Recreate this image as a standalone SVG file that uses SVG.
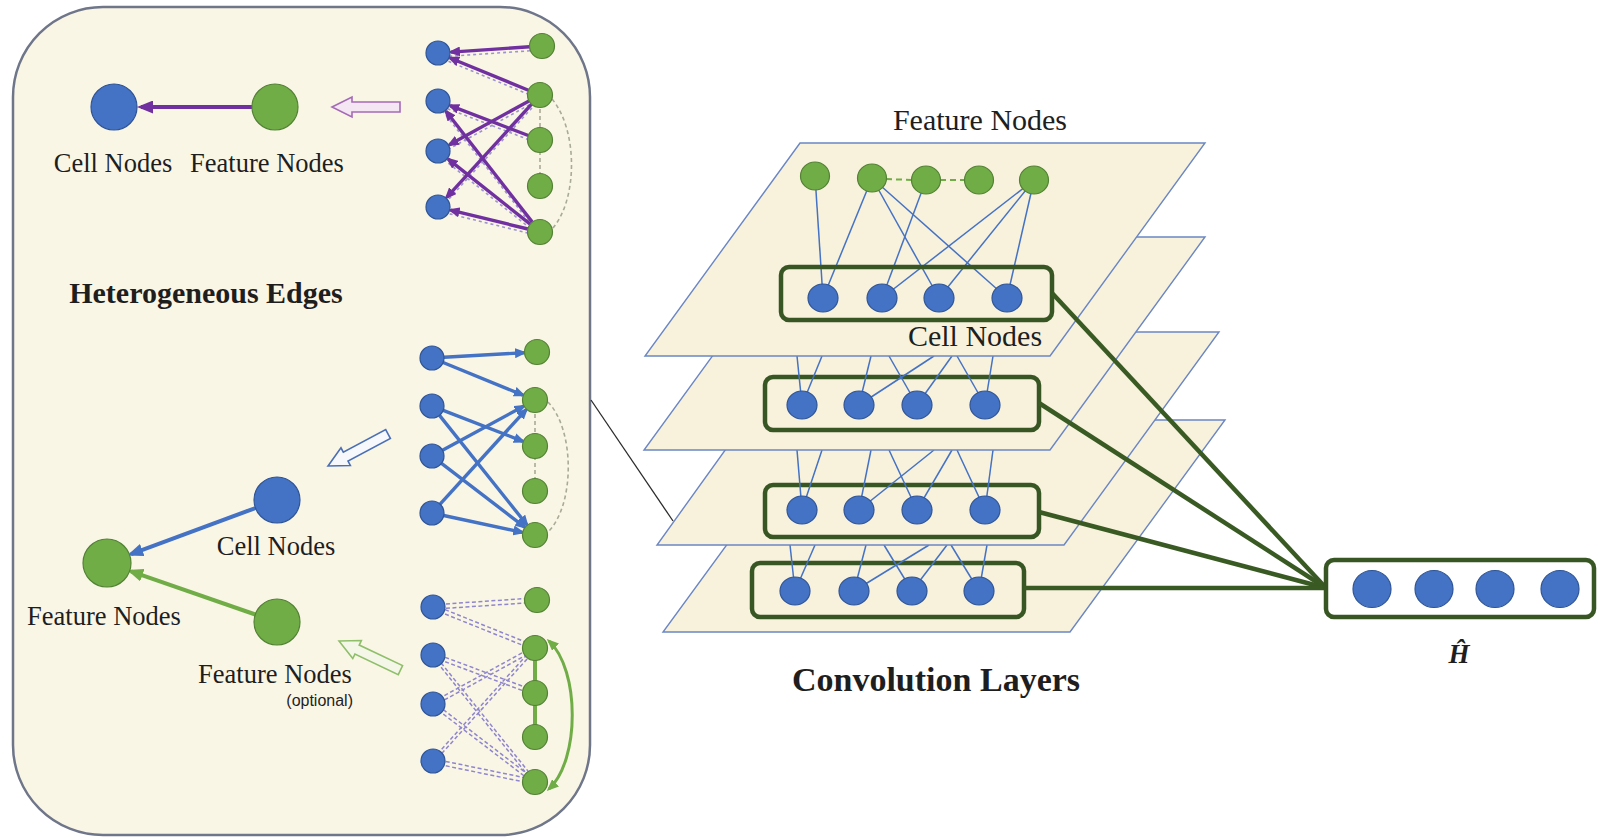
<svg xmlns="http://www.w3.org/2000/svg" width="1597" height="837" viewBox="0 0 1597 837">
<defs>
<style>
 .serif{font-family:"Liberation Serif","Times New Roman",serif;fill:#1e1e1e}
 .l1{font-size:26.5px}
 .l2{font-size:30px}
 .bn{fill:#4472c4;stroke:#2f5597;stroke-width:1.2}
 .gn{fill:#70ad47;stroke:#548235;stroke-width:1.2}
 .plane{fill:#f8f2dc;stroke:#6a86c4;stroke-width:1.4}
 .box{fill:none;stroke:#375623;stroke-width:4.5}
 .thin{stroke:#4472c4;stroke-width:1.5;fill:none}
 .pe{stroke:#7030a0;stroke-width:3.4;fill:none;marker-end:url(#ahP)}
 .be{stroke:#4472c4;stroke-width:3.4;fill:none;marker-end:url(#ahB)}
 .pd{stroke:#9d94cf;stroke-width:1.6;stroke-dasharray:3 3;fill:none}
 .gd{stroke:#a8ab98;stroke-width:1.6;stroke-dasharray:4 3;fill:none}
 .dd{stroke:#8f86cc;stroke-width:1.5;stroke-dasharray:4 2.5;fill:none}
 .thick{stroke:#3a5a24;stroke-width:4.5;fill:none}
</style>
<marker id="ahP" markerUnits="userSpaceOnUse" markerWidth="12" markerHeight="10" refX="9" refY="5" orient="auto"><path d="M0,0 L12,5 L0,10 z" fill="#7030a0"/></marker>
<marker id="ahB" markerUnits="userSpaceOnUse" markerWidth="12" markerHeight="10" refX="9" refY="5" orient="auto"><path d="M0,0 L12,5 L0,10 z" fill="#4472c4"/></marker>
<marker id="ahG" markerUnits="userSpaceOnUse" markerWidth="12" markerHeight="10" refX="9" refY="5" orient="auto-start-reverse"><path d="M0,0 L12,5 L0,10 z" fill="#70ad47"/></marker>
<marker id="ahPL" markerUnits="userSpaceOnUse" markerWidth="16" markerHeight="13" refX="12" refY="6.5" orient="auto"><path d="M0,0 L16,6.5 L0,13 z" fill="#7030a0"/></marker>
<marker id="ahBL" markerUnits="userSpaceOnUse" markerWidth="16" markerHeight="13" refX="12" refY="6.5" orient="auto"><path d="M0,0 L16,6.5 L0,13 z" fill="#4472c4"/></marker>
<marker id="ahGL" markerUnits="userSpaceOnUse" markerWidth="16" markerHeight="13" refX="12" refY="6.5" orient="auto"><path d="M0,0 L16,6.5 L0,13 z" fill="#70ad47"/></marker>
<polygon id="hollow" points="0,0 20,-10 20,-5 68,-5 68,5 20,5 20,10"/>
<!-- optional feature-feature edges, drawn as double dashed strokes -->
<g id="optEdges">
 <line x1="433" y1="607" x2="537" y2="600"/>
 <line x1="433" y1="607" x2="535" y2="648"/>
 <line x1="433" y1="655" x2="535" y2="693"/>
 <line x1="433" y1="655" x2="535" y2="782"/>
 <line x1="433" y1="704" x2="535" y2="648"/>
 <line x1="433" y1="704" x2="535" y2="782"/>
 <line x1="433" y1="761" x2="535" y2="648"/>
 <line x1="433" y1="761" x2="535" y2="782"/>
</g>
</defs>

<rect width="1597" height="837" fill="#ffffff"/>

<!-- left panel -->
<rect id="panel" x="13" y="7" width="577" height="828" rx="90" fill="#faf6e6" stroke="#6f7689" stroke-width="2.5"/>

<!-- legend: feature -> cell -->
<line x1="252" y1="107" x2="141" y2="107" stroke="#7030a0" stroke-width="4" marker-end="url(#ahPL)"/>
<g id="legend-cell-a"><circle class="bn" cx="114" cy="107" r="23"/></g>
<g id="legend-feat-a"><circle class="gn" cx="275" cy="107" r="23"/></g>
<text class="serif l1" x="113" y="172" text-anchor="middle">Cell Nodes</text>
<text class="serif l1" x="267" y="172" text-anchor="middle">Feature Nodes</text>
<use href="#hollow" transform="translate(332,107)" fill="#f5e6f3" stroke="#a46bb6" stroke-width="1.6"/>

<text class="serif" x="206" y="303" text-anchor="middle" font-size="30" font-weight="bold">Heterogeneous Edges</text>

<!-- cluster: feature -> cell edges -->
<g id="cluster-top">
 <line class="gd" x1="540" y1="95" x2="540" y2="186"/>
 <path class="gd" d="M552,99 C578,130 578,200 552,229"/>
 <line class="pd" x1="542" y1="50" x2="438" y2="57"/>
 <line class="pd" x1="540" y1="99" x2="438" y2="57"/>
 <line class="pd" x1="540" y1="99" x2="438" y2="155"/>
 <line class="pd" x1="540" y1="99" x2="438" y2="211"/>
 <line class="pd" x1="540" y1="144" x2="438" y2="105"/>
 <line class="pd" x1="540" y1="236" x2="438" y2="105"/>
 <line class="pd" x1="540" y1="236" x2="438" y2="155"/>
 <line class="pd" x1="540" y1="236" x2="438" y2="211"/>
 <line class="pe" x1="529.5" y1="46.8" x2="451" y2="52.1"/>
 <line class="pe" x1="528.4" y1="90.2" x2="450" y2="58"/>
 <line class="pe" x1="529" y1="101" x2="449.4" y2="144.7"/>
 <line class="pe" x1="531.6" y1="104.2" x2="446.7" y2="197.4"/>
 <line class="pe" x1="528.3" y1="135.5" x2="450.1" y2="105.6"/>
 <line class="pe" x1="532.3" y1="222.1" x2="446" y2="111.3"/>
 <line class="pe" x1="530.2" y1="224.2" x2="448.2" y2="159.1"/>
 <line class="pe" x1="527.9" y1="229" x2="450.6" y2="210.1"/>
 <g id="t-c1"><circle class="bn" cx="438" cy="53" r="12"/></g>
 <g id="t-c2"><circle class="bn" cx="438" cy="101" r="12"/></g>
 <g id="t-c3"><circle class="bn" cx="438" cy="151" r="12"/></g>
 <g id="t-c4"><circle class="bn" cx="438" cy="207" r="12"/></g>
 <g id="t-f1"><circle class="gn" cx="542" cy="46" r="12.5"/></g>
 <g id="t-f2"><circle class="gn" cx="540" cy="95" r="12.5"/></g>
 <g id="t-f3"><circle class="gn" cx="540" cy="140" r="12.5"/></g>
 <g id="t-f4"><circle class="gn" cx="540" cy="186" r="12.5"/></g>
 <g id="t-f5"><circle class="gn" cx="540" cy="232" r="12.5"/></g>
</g>

<!-- cluster: cell -> feature edges -->
<g id="cluster-mid">
 <line class="gd" x1="535" y1="400" x2="535" y2="491"/>
 <path class="gd" d="M548,402 C575,430 575,505 548,532"/>
 <line class="be" x1="444" y1="357.3" x2="524" y2="352.7"/>
 <line class="be" x1="443.1" y1="362.5" x2="523" y2="395.1"/>
 <line class="be" x1="443.2" y1="410.3" x2="522.9" y2="441.3"/>
 <line class="be" x1="439.5" y1="415.4" x2="526.9" y2="524.8"/>
 <line class="be" x1="442.5" y1="450.3" x2="523.6" y2="406.2"/>
 <line class="be" x1="441.5" y1="463.3" x2="524.7" y2="527.1"/>
 <line class="be" x1="440.1" y1="504.1" x2="526.2" y2="409.6"/>
 <line class="be" x1="443.7" y1="515.5" x2="522.3" y2="532.3"/>
 <g id="m-c1"><circle class="bn" cx="432" cy="358" r="12"/></g>
 <g id="m-c2"><circle class="bn" cx="432" cy="406" r="12"/></g>
 <g id="m-c3"><circle class="bn" cx="432" cy="456" r="12"/></g>
 <g id="m-c4"><circle class="bn" cx="432" cy="513" r="12"/></g>
 <g id="m-f1"><circle class="gn" cx="537" cy="352" r="12.5"/></g>
 <g id="m-f2"><circle class="gn" cx="535" cy="400" r="12.5"/></g>
 <g id="m-f3"><circle class="gn" cx="535" cy="446" r="12.5"/></g>
 <g id="m-f4"><circle class="gn" cx="535" cy="491" r="12.5"/></g>
 <g id="m-f5"><circle class="gn" cx="535" cy="535" r="12.5"/></g>
</g>

<!-- legend: cell -> feature, feature -> feature -->
<line x1="255.4" y1="508" x2="131" y2="554.2" stroke="#4472c4" stroke-width="4" marker-end="url(#ahBL)"/>
<line x1="255.3" y1="614.5" x2="131" y2="571.3" stroke="#70ad47" stroke-width="4" marker-end="url(#ahGL)"/>
<g id="legend-cell-b"><circle class="bn" cx="277" cy="500" r="23"/></g>
<g id="legend-feat-b"><circle class="gn" cx="107" cy="563" r="24"/></g>
<g id="legend-feat-c"><circle class="gn" cx="277" cy="622" r="23"/></g>
<text class="serif l1" x="276" y="555" text-anchor="middle">Cell Nodes</text>
<text class="serif l1" x="104" y="625" text-anchor="middle">Feature Nodes</text>
<text class="serif l1" x="275" y="683" text-anchor="middle">Feature Nodes</text>
<text x="353" y="706" text-anchor="end" font-family="Liberation Sans, Arial, sans-serif" font-size="16" fill="#1e1e1e">(optional)</text>
<use href="#hollow" transform="translate(328,466) rotate(-28)" fill="#f7f8fb" stroke="#4a6fb5" stroke-width="1.6"/>
<use href="#hollow" transform="translate(339,641) rotate(25.4)" fill="#f4f7e8" stroke="#8fbf6a" stroke-width="1.6"/>

<!-- cluster: optional edges -->
<g id="cluster-bot">
 <use href="#optEdges" class="dd" transform="translate(0,-2.2)"/>
 <use href="#optEdges" class="dd" transform="translate(0,2.2)"/>
 <line x1="535" y1="648" x2="535" y2="737" stroke="#70ad47" stroke-width="4"/>
 <path d="M549,641 C580,670 580,760 549,789" fill="none" stroke="#70ad47" stroke-width="3" marker-start="url(#ahG)" marker-end="url(#ahG)"/>
 <g id="b-c1"><circle class="bn" cx="433" cy="607" r="12"/></g>
 <g id="b-c2"><circle class="bn" cx="433" cy="655" r="12"/></g>
 <g id="b-c3"><circle class="bn" cx="433" cy="704" r="12"/></g>
 <g id="b-c4"><circle class="bn" cx="433" cy="761" r="12"/></g>
 <g id="b-f1"><circle class="gn" cx="537" cy="600" r="12.5"/></g>
 <g id="b-f2"><circle class="gn" cx="535" cy="648" r="12.5"/></g>
 <g id="b-f3"><circle class="gn" cx="535" cy="693" r="12.5"/></g>
 <g id="b-f4"><circle class="gn" cx="535" cy="737" r="12.5"/></g>
 <g id="b-f5"><circle class="gn" cx="535" cy="782" r="12.5"/></g>
</g>

<!-- stacked convolution layers, back to front -->
<g id="layer-4">
 <polygon class="plane" points="818,420 1225,420 1070,632 663,632"/>
 <rect class="box" x="752" y="563" width="272" height="54" rx="8"/>
 <g class="thin">
  <line x1="790" y1="545" x2="795" y2="591"/><line x1="815" y1="545" x2="795" y2="591"/>
  <line x1="866" y1="545" x2="854" y2="591"/><line x1="929" y1="545" x2="854" y2="591"/>
  <line x1="884" y1="545" x2="912" y2="591"/><line x1="947" y1="545" x2="912" y2="591"/>
  <line x1="951" y1="545" x2="979" y2="591"/><line x1="987" y1="545" x2="979" y2="591"/>
 </g>
 <g id="l4-n1"><ellipse class="bn" cx="795" cy="591" rx="15" ry="14"/></g>
 <g id="l4-n2"><ellipse class="bn" cx="854" cy="591" rx="15" ry="14"/></g>
 <g id="l4-n3"><ellipse class="bn" cx="912" cy="591" rx="15" ry="14"/></g>
 <g id="l4-n4"><ellipse class="bn" cx="979" cy="591" rx="15" ry="14"/></g>
</g>
<g id="layer-3">
 <polygon class="plane" points="810,332 1219,332 1064,545 657,545"/>
 <rect class="box" x="765" y="485" width="274" height="52" rx="8"/>
 <g class="thin">
  <line x1="797" y1="450" x2="802" y2="510"/><line x1="822" y1="450" x2="802" y2="510"/>
  <line x1="871" y1="450" x2="859" y2="510"/><line x1="934" y1="450" x2="859" y2="510"/>
  <line x1="889" y1="450" x2="917" y2="510"/><line x1="952" y1="450" x2="917" y2="510"/>
  <line x1="957" y1="450" x2="985" y2="510"/><line x1="993" y1="450" x2="985" y2="510"/>
 </g>
 <g id="l3-n1"><ellipse class="bn" cx="802" cy="510" rx="15" ry="14"/></g>
 <g id="l3-n2"><ellipse class="bn" cx="859" cy="510" rx="15" ry="14"/></g>
 <g id="l3-n3"><ellipse class="bn" cx="917" cy="510" rx="15" ry="14"/></g>
 <g id="l3-n4"><ellipse class="bn" cx="985" cy="510" rx="15" ry="14"/></g>
</g>
<g id="layer-2">
 <polygon class="plane" points="799,237 1205,237 1050,450 644,450"/>
 <rect class="box" x="765" y="377" width="274" height="53" rx="8"/>
 <g class="thin">
  <line x1="797" y1="356" x2="802" y2="405"/><line x1="822" y1="356" x2="802" y2="405"/>
  <line x1="871" y1="356" x2="859" y2="405"/><line x1="934" y1="356" x2="859" y2="405"/>
  <line x1="889" y1="356" x2="917" y2="405"/><line x1="952" y1="356" x2="917" y2="405"/>
  <line x1="957" y1="356" x2="985" y2="405"/><line x1="993" y1="356" x2="985" y2="405"/>
 </g>
 <g id="l2-n1"><ellipse class="bn" cx="802" cy="405" rx="15" ry="14"/></g>
 <g id="l2-n2"><ellipse class="bn" cx="859" cy="405" rx="15" ry="14"/></g>
 <g id="l2-n3"><ellipse class="bn" cx="917" cy="405" rx="15" ry="14"/></g>
 <g id="l2-n4"><ellipse class="bn" cx="985" cy="405" rx="15" ry="14"/></g>
</g>
<g id="layer-1">
 <polygon class="plane" points="800,143 1205,143 1050,356 645,356"/>
 <g class="thin">
  <line x1="815" y1="176" x2="823" y2="298"/>
  <line x1="872" y1="178" x2="823" y2="298"/>
  <line x1="872" y1="178" x2="939" y2="298"/>
  <line x1="872" y1="178" x2="1007" y2="298"/>
  <line x1="926" y1="180" x2="882" y2="298"/>
  <line x1="1034" y1="180" x2="882" y2="298"/>
  <line x1="1034" y1="180" x2="939" y2="298"/>
  <line x1="1034" y1="180" x2="1007" y2="298"/>
 </g>
 <line x1="886" y1="179" x2="912" y2="180" stroke="#70ad47" stroke-width="2" stroke-dasharray="6 4"/>
 <line x1="940" y1="180" x2="965" y2="180" stroke="#70ad47" stroke-width="2" stroke-dasharray="6 4"/>
 <rect class="box" x="781" y="267" width="271" height="53" rx="8"/>
 <g id="l1-n1"><ellipse class="bn" cx="823" cy="298" rx="15" ry="14"/></g>
 <g id="l1-n2"><ellipse class="bn" cx="882" cy="298" rx="15" ry="14"/></g>
 <g id="l1-n3"><ellipse class="bn" cx="939" cy="298" rx="15" ry="14"/></g>
 <g id="l1-n4"><ellipse class="bn" cx="1007" cy="298" rx="15" ry="14"/></g>
 <g id="f1"><ellipse class="gn" cx="815" cy="176" rx="14.5" ry="14"/></g>
 <g id="f2"><ellipse class="gn" cx="872" cy="178" rx="14.5" ry="14"/></g>
 <g id="f3"><ellipse class="gn" cx="926" cy="180" rx="14.5" ry="14"/></g>
 <g id="f4"><ellipse class="gn" cx="979" cy="180" rx="14.5" ry="14"/></g>
 <g id="f5"><ellipse class="gn" cx="1034" cy="180" rx="14.5" ry="14"/></g>
 <text class="serif l2" x="975" y="346" text-anchor="middle">Cell Nodes</text>
</g>
<text class="serif l2" x="980" y="130" text-anchor="middle">Feature Nodes</text>
<text class="serif" x="936" y="691" text-anchor="middle" font-size="34" font-weight="bold">Convolution Layers</text>

<!-- connectors -->
<g id="connectors">
 <line x1="591" y1="400" x2="673" y2="521" stroke="#2b2b2b" stroke-width="1.3"/>
 <line class="thick" x1="1052" y1="293" x2="1326" y2="588"/>
 <line class="thick" x1="1039" y1="403" x2="1326" y2="588"/>
 <line class="thick" x1="1039" y1="512" x2="1326" y2="588"/>
 <line class="thick" x1="1024" y1="588" x2="1326" y2="588"/>
</g>

<!-- readout -->
<g id="readout">
 <rect class="box" x="1326" y="560" width="268" height="57" rx="8" fill="#ffffff"/>
 <ellipse class="bn" cx="1372" cy="589" rx="19" ry="18.5"/>
 <ellipse class="bn" cx="1434" cy="589" rx="19" ry="18.5"/>
 <ellipse class="bn" cx="1495" cy="589" rx="19" ry="18.5"/>
 <ellipse class="bn" cx="1560" cy="589" rx="19" ry="18.5"/>
</g>
<text class="serif" x="1459" y="663" text-anchor="middle" font-size="27" font-weight="bold" font-style="italic">Ĥ</text>
</svg>
